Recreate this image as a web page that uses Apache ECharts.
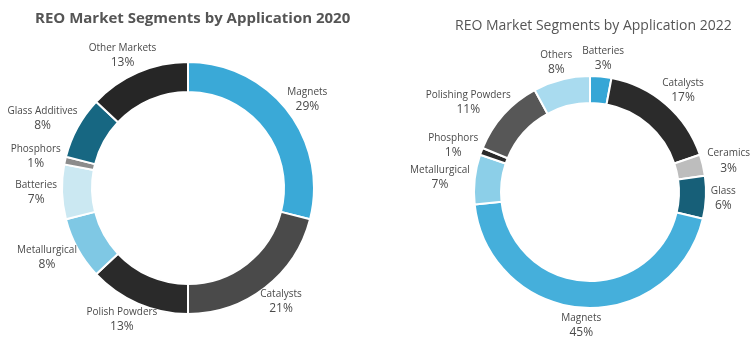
<!DOCTYPE html>
<html>
<head>
<meta charset="utf-8">
<script src="https://cdn.jsdelivr.net/npm/echarts@6/dist/echarts.min.js"></script>
<style>
  html, body { margin: 0; padding: 0; background: #fff; }
  #chart { width: 756px; height: 338px; }
</style>
</head>
<body>
<div id="chart"></div>
<script>
// 2020 segments, clockwise from 12 o'clock
const cats2020 = ['Magnets', 'Catalysts', 'Polish Powders', 'Metallurgical', 'Batteries', 'Phosphors', 'Glass Additives', 'Other Markets'];
const vals2020 = [29, 21, 13, 8, 7, 1, 8, 13];
const colors2020 = ['#3aa9d7', '#4a4a4a', '#2a2a2a', '#7fc8e4', '#cbe8f2', '#8c8c8c', '#176782', '#262626'];

// 2022 segments, clockwise from 12 o'clock
const cats2022 = ['Batteries', 'Catalysts', 'Ceramics', 'Glass', 'Magnets', 'Metallurgical', 'Phosphors', 'Polishing Powders', 'Others'];
const vals2022 = [3, 17, 3, 6, 45, 7, 1, 11, 8];
const colors2022 = ['#35a6d6', '#2b2b2b', '#bdbdbd', '#175f78', '#45afdb', '#8ccfe8', '#2a2a2a', '#575757', '#a9dbef'];

const titles = ['REO Market Segments by Application 2020', 'REO Market Segments by Application 2022'];

const FONT = '"Open Sans", "Noto Sans", sans-serif';
const TEXT = '#4a4a4a';

// Place each two-line label just outside the ring, centred on the
// slice's mid-angle and pushed out by half its own size.
function labelPlacer(cx, cy, r, values) {
  const total = values.reduce((a, b) => a + b, 0);
  const gap = 5;
  return function (params) {
    let before = 0;
    for (let i = 0; i < params.dataIndex; i++) before += values[i];
    const mid = (before + values[params.dataIndex] / 2) / total * 2 * Math.PI;
    const s = Math.sin(mid), c = Math.cos(mid);
    const w = params.labelRect.width, h = params.labelRect.height;
    return {
      x: cx + s * (r + gap) + s * w / 2,
      y: cy - c * (r + gap) - c * h / 2,
      align: 'center',
      verticalAlign: 'middle'
    };
  };
}

function donut(cats, vals, colors, cx, cy, rIn, rOut) {
  return {
    type: 'pie',
    center: [cx, cy],
    radius: [rIn, rOut],
    startAngle: 90,
    clockwise: true,
    avoidLabelOverlap: false,
    silent: true,
    data: cats.map((name, i) => ({ name: name, value: vals[i], itemStyle: { color: colors[i] } })),
    itemStyle: { borderColor: '#ffffff', borderWidth: 2 },
    label: {
      show: true,
      position: 'outside',
      formatter: '{n|{b}}\n{p|{c}%}',
      rich: {
        n: { fontFamily: FONT, fontSize: 10, color: TEXT, lineHeight: 14, align: 'center' },
        p: { fontFamily: FONT, fontSize: 12, color: TEXT, lineHeight: 15, align: 'center' }
      }
    },
    labelLine: { show: false },
    labelLayout: labelPlacer(cx, cy, rOut, vals)
  };
}

const chart = echarts.init(document.getElementById('chart'), null, { renderer: 'canvas' });
chart.setOption({
  backgroundColor: '#ffffff',
  animation: false,
  title: [
    {
      text: titles[0], left: 30, top: 6,
      textStyle: { fontFamily: FONT, fontSize: 15, fontWeight: 'bold', color: '#555555' }
    },
    {
      text: titles[1], left: 450, top: 14,
      textStyle: { fontFamily: FONT, fontSize: 14, fontWeight: 'normal', color: '#555555' }
    }
  ],
  series: [
    donut(cats2020, vals2020, colors2020, 188, 188, 96, 126),
    donut(cats2022, vals2022, colors2022, 590, 192, 89, 116)
  ]
});
</script>
</body>
</html>
